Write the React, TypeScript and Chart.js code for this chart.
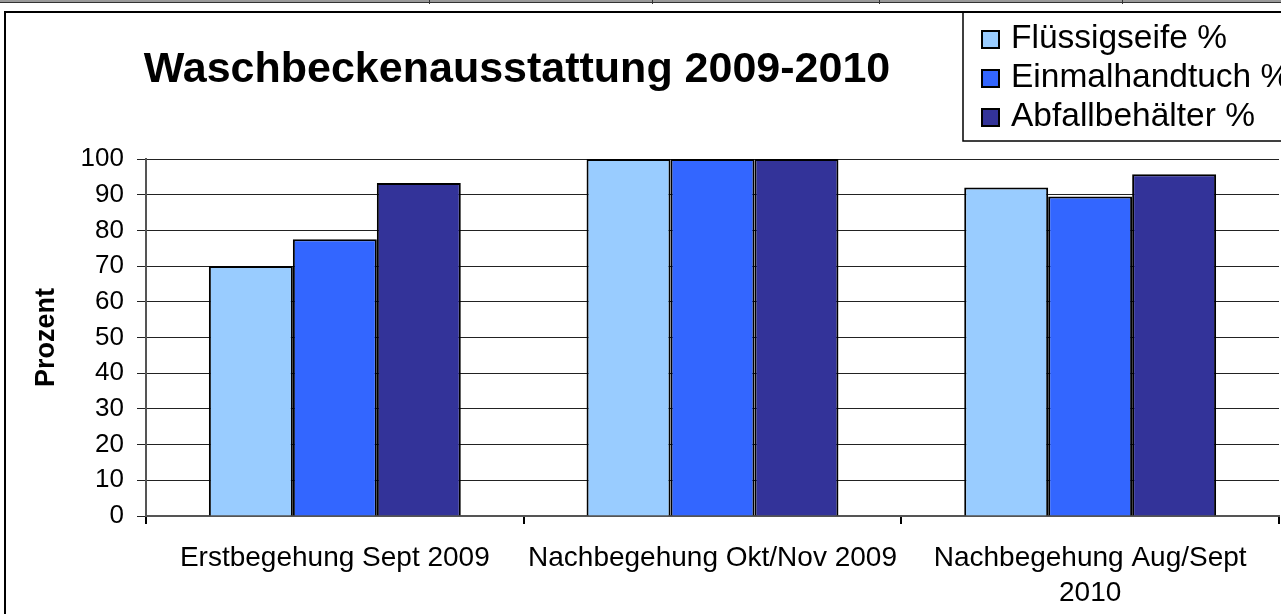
import React, { useEffect, useRef } from "react";
import { Chart, registerables } from "chart.js";

Chart.register(...registerables);

const W = 1281;
const H = 614;
const FONT = "'Liberation Sans', Arial, Helvetica, sans-serif";

const chartTitle = "Waschbeckenausstattung 2009-2010";
const yAxisTitle = "Prozent";
const categories: (string | string[])[] = [
  "Erstbegehung Sept 2009",
  "Nachbegehung Okt/Nov 2009",
  ["Nachbegehung Aug/Sept", "2010"],
];
const seriesNames = ["Flüssigseife %", "Einmalhandtuch %", "Abfallbehälter %"];
const fluessigseife = [70, 100, 92];
const einmalhandtuch = [77.5, 100, 89.5];
const abfallbehaelter = [93.3, 100, 95.7];
const seriesColors = ["#99CCFF", "#3366FF", "#333399"];
const yMin = 0;
const yMax = 100;
const yStep = 10;
const topMarks = [429, 652, 879, 1122];

const framePlugin = {
  id: "frame",
  beforeDraw(chart: any) {
    const ctx = chart.ctx as CanvasRenderingContext2D;
    ctx.save();
    ctx.fillStyle = "#ffffff";
    ctx.fillRect(0, 0, W, H);
    // strip at the very top
    ctx.fillStyle = "#9a9a9a";
    ctx.fillRect(0, 0, W, 3);
    ctx.fillStyle = "#333";
    ctx.fillRect(0, 2, W, 1);
    for (const x of topMarks) ctx.fillRect(x, 0, 1, 4);
    // outer chart border
    ctx.strokeStyle = "#000";
    ctx.lineWidth = 2;
    ctx.beginPath();
    ctx.moveTo(5, H + 4);
    ctx.lineTo(5, 12);
    ctx.lineTo(W + 4, 12);
    ctx.stroke();
    // title
    ctx.fillStyle = "#000";
    ctx.font = `bold 43px ${FONT}`;
    ctx.textAlign = "center";
    ctx.textBaseline = "alphabetic";
    ctx.fillText(chartTitle, 517, 82);
    ctx.restore();
  },
  afterDraw(chart: any) {
    const ctx = chart.ctx as CanvasRenderingContext2D;
    ctx.save();
    // legend box
    ctx.strokeStyle = "#000";
    ctx.lineWidth = 1.5;
    ctx.strokeRect(963, 12, W - 963 + 10, 129);
    ctx.font = `33.5px ${FONT}`;
    ctx.textAlign = "left";
    ctx.textBaseline = "alphabetic";
    seriesNames.forEach((name, i) => {
      const y0 = 31 + i * 39;
      ctx.fillStyle = seriesColors[i];
      ctx.fillRect(982, y0, 17, 17);
      ctx.lineWidth = 2;
      ctx.strokeStyle = "#000";
      ctx.strokeRect(982, y0, 17, 17);
      ctx.fillStyle = "#000";
      ctx.fillText(name, 1011, y0 + 17);
    });
    ctx.restore();
  },
};

export default function App() {
  const canvasRef = useRef<HTMLCanvasElement | null>(null);

  useEffect(() => {
    if (!canvasRef.current) return;
    const seriesData = [fluessigseife, einmalhandtuch, abfallbehaelter];
    const chart = new Chart(canvasRef.current, {
      type: "bar",
      data: {
        labels: categories,
        datasets: seriesNames.map((name, i) => ({
          label: name,
          data: seriesData[i],
          backgroundColor: seriesColors[i],
          borderColor: "#000",
          borderWidth: 2,
          categoryPercentage: 0.667,
          barPercentage: 1,
        })),
      },
      options: {
        responsive: false,
        animation: false,
        devicePixelRatio: 1,
        layout: { padding: { top: 159, right: 2, left: 0, bottom: 0 } },
        plugins: {
          legend: { display: false },
          title: { display: false },
          tooltip: { enabled: false },
        },
        scales: {
          x: {
            grid: {
              display: true,
              drawOnChartArea: false,
              drawTicks: true,
              tickLength: 8,
              color: "#000",
              lineWidth: 2,
              offset: true,
            },
            border: { display: true, color: "#555", width: 2 },
            ticks: {
              color: "#000",
              font: { size: 28, family: FONT, lineHeight: 1.25 },
              padding: 17,
              maxRotation: 0,
              autoSkip: false,
            },
            afterFit: (s: any) => {
              s.height = H - 516;
            },
          },
          y: {
            min: yMin,
            max: yMax,
            ticks: {
              stepSize: yStep,
              color: "#000",
              font: { size: 26, family: FONT },
              padding: 13,
            },
            grid: { color: "#222", lineWidth: 1, tickLength: 9 },
            border: { display: true, color: "#555", width: 2 },
            title: {
              display: true,
              text: yAxisTitle,
              color: "#000",
              font: { size: 27, weight: "bold", family: FONT },
              padding: { top: 30, bottom: 0 },
            },
            afterFit: (s: any) => {
              s.width = 146;
            },
          },
        },
      },
      plugins: [framePlugin],
    } as any);
    return () => chart.destroy();
  }, []);

  return (
    <div style={{ position: "absolute", left: 0, top: 0, width: W, height: H, background: "#fff" }}>
      <canvas ref={canvasRef} width={W} height={H} style={{ display: "block", width: W, height: H }} />
    </div>
  );
}
